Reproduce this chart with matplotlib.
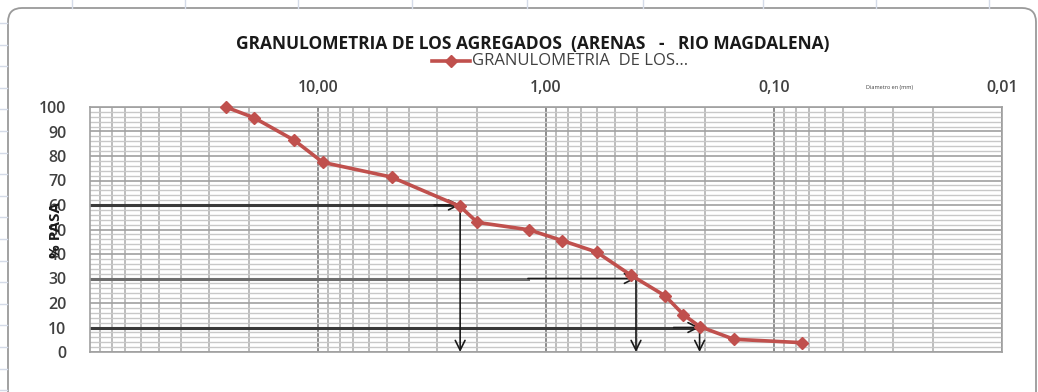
import matplotlib.pyplot as plt
import numpy as np
from matplotlib.lines import Line2D
from matplotlib.patches import FancyBboxPatch
from matplotlib.ticker import FixedLocator, NullFormatter

# Sieve openings (mm) and cumulative percent passing
diametro_mm = [25.4, 19.05, 12.7, 9.525, 4.76, 2.38, 2.0, 1.19, 0.85, 0.6,
               0.425, 0.3, 0.25, 0.212, 0.15, 0.075]
pct_pasa = [100, 95.6, 86.4, 77.4, 71.4, 59.4, 52.9, 49.9, 45.5, 40.8,
            31.4, 22.9, 15.3, 10.4, 5.2, 3.8]

# Characteristic diameters
d_pct = [60, 30, 10]
d_mm = [2.38, 0.403, 0.212]

x_ticks = [10, 1, 0.1, 0.01]
x_labels = ["10,00", "1,00", "0,10", "0,01"]
y_ticks = list(range(0, 101, 10))

W, H = 1038, 392
RED = "#C0504D"
FONT = "Open Sans"

fig = plt.figure(figsize=(W / 100, H / 100), dpi=100)
fig.patch.set_facecolor("white")

# worksheet cells behind the chart object
bg = fig.add_axes([0, 0, 1, 1], zorder=-5)
bg.set_xlim(0, W)
bg.set_ylim(H, 0)
bg.axis("off")
for xc in [72, 185, 298, 412, 527, 643, 763, 876, 989]:
    bg.plot([xc, xc], [0, 8], color="#d4dbe8", lw=1)
for yr in np.arange(23, H, 21.6):
    bg.plot([0, 7], [yr, yr], color="#d4dbe8", lw=1)
bg.add_patch(FancyBboxPatch((8, 8), 1036 - 8, H + 20,
                            boxstyle="round,pad=0,rounding_size=14",
                            facecolor="white", edgecolor="#9a9a9a", lw=1.3))

ax = fig.add_axes([90 / W, (H - 352) / H, (1002 - 90) / W, (352 - 107) / H])
ax.set_xscale("log")
ax.set_xlim(100, 0.01)
ax.set_ylim(0, 100)

# log grid: decades darker, intermediate lines lighter
minor_x = [m * 10.0 ** e for e in range(-2, 2) for m in range(2, 10)]
ax.xaxis.set_major_locator(FixedLocator(x_ticks))
ax.xaxis.set_minor_locator(FixedLocator(minor_x))
ax.xaxis.set_minor_formatter(NullFormatter())
ax.set_xticklabels(x_labels)
ax.xaxis.tick_top()
ax.yaxis.set_major_locator(FixedLocator(y_ticks))
ax.yaxis.set_minor_locator(FixedLocator(list(range(0, 101, 2))))
ax.grid(which="major", axis="x", color="#8c8c8c", lw=1.4)
ax.grid(which="minor", axis="x", color="#bdbdbd", lw=1.4)
ax.grid(which="major", axis="y", color="#a0a0a0", lw=1.2)
ax.grid(which="minor", axis="y", color="#c8c8c8", lw=1.0)
ax.set_axisbelow(True)
ax.tick_params(which="both", length=0)
ax.tick_params(axis="x", pad=8, labelsize=11.5, labelcolor="#404040")
ax.tick_params(axis="y", pad=17, labelsize=11.5, labelcolor="#404040")
for lbl in ax.get_xticklabels() + ax.get_yticklabels():
    lbl.set_fontfamily(FONT)
    lbl.set_fontweight("semibold")
for lbl in ax.get_yticklabels():
    lbl.set_horizontalalignment("right")
for sp in ax.spines.values():
    sp.set_color("#a0a0a0")
    sp.set_linewidth(1.2)

# construction lines for D60, D30, D10
arrow = dict(arrowstyle="->,head_length=0.7,head_width=0.35", color="#1a1a1a",
             lw=1.2, shrinkA=0, shrinkB=0)
for p, d in zip(d_pct, d_mm):
    if p == 30:
        ax.plot([100, 1.2], [p, p], color="#6e6e6e", lw=2.2, zorder=2)
        ax.annotate("", xy=(d, p), xytext=(1.2, p), arrowprops=arrow, zorder=3)
    else:
        ax.plot([100, d * 1.05], [p, p], color="#3a3a3a", lw=2.2, zorder=2)
        ax.annotate("", xy=(d, p), xytext=(d * 1.3, p), arrowprops=arrow, zorder=3)
    ax.annotate("", xy=(d, 0), xytext=(d, p), arrowprops=arrow, zorder=3)

ax.plot(diametro_mm, pct_pasa, color=RED, lw=2.6, marker="D", ms=6.5,
        markeredgecolor=RED, zorder=4, clip_on=False)

ax.set_ylabel("% PASA", fontsize=11, fontweight="bold", fontfamily=FONT,
              labelpad=-17, color="#1a1a1a")

fig.text(533 / W, 1 - 44 / H, "GRANULOMETRIA DE LOS AGREGADOS  (ARENAS   -   RIO MAGDALENA)",
         ha="center", va="center", fontsize=12.5, fontweight="bold", fontfamily=FONT,
         color="#1a1a1a")

# legend entry
fig.add_artist(Line2D([432 / W, 470 / W], [1 - 61 / H, 1 - 61 / H], color=RED, lw=2.6,
                      transform=fig.transFigure))
fig.add_artist(Line2D([451 / W], [1 - 61 / H], color=RED, marker="D", ms=6.5,
                      transform=fig.transFigure))
fig.text(472 / W, 1 - 61 / H, "GRANULOMETRIA  DE LOS...", ha="left", va="center",
         fontsize=12, fontfamily=FONT, color="#404040")

fig.text(890 / W, 1 - 88 / H, "Diametro en (mm)", ha="center", va="center",
         fontsize=4, fontfamily=FONT, color="#404040")

fig.savefig("out.png", dpi=100)
